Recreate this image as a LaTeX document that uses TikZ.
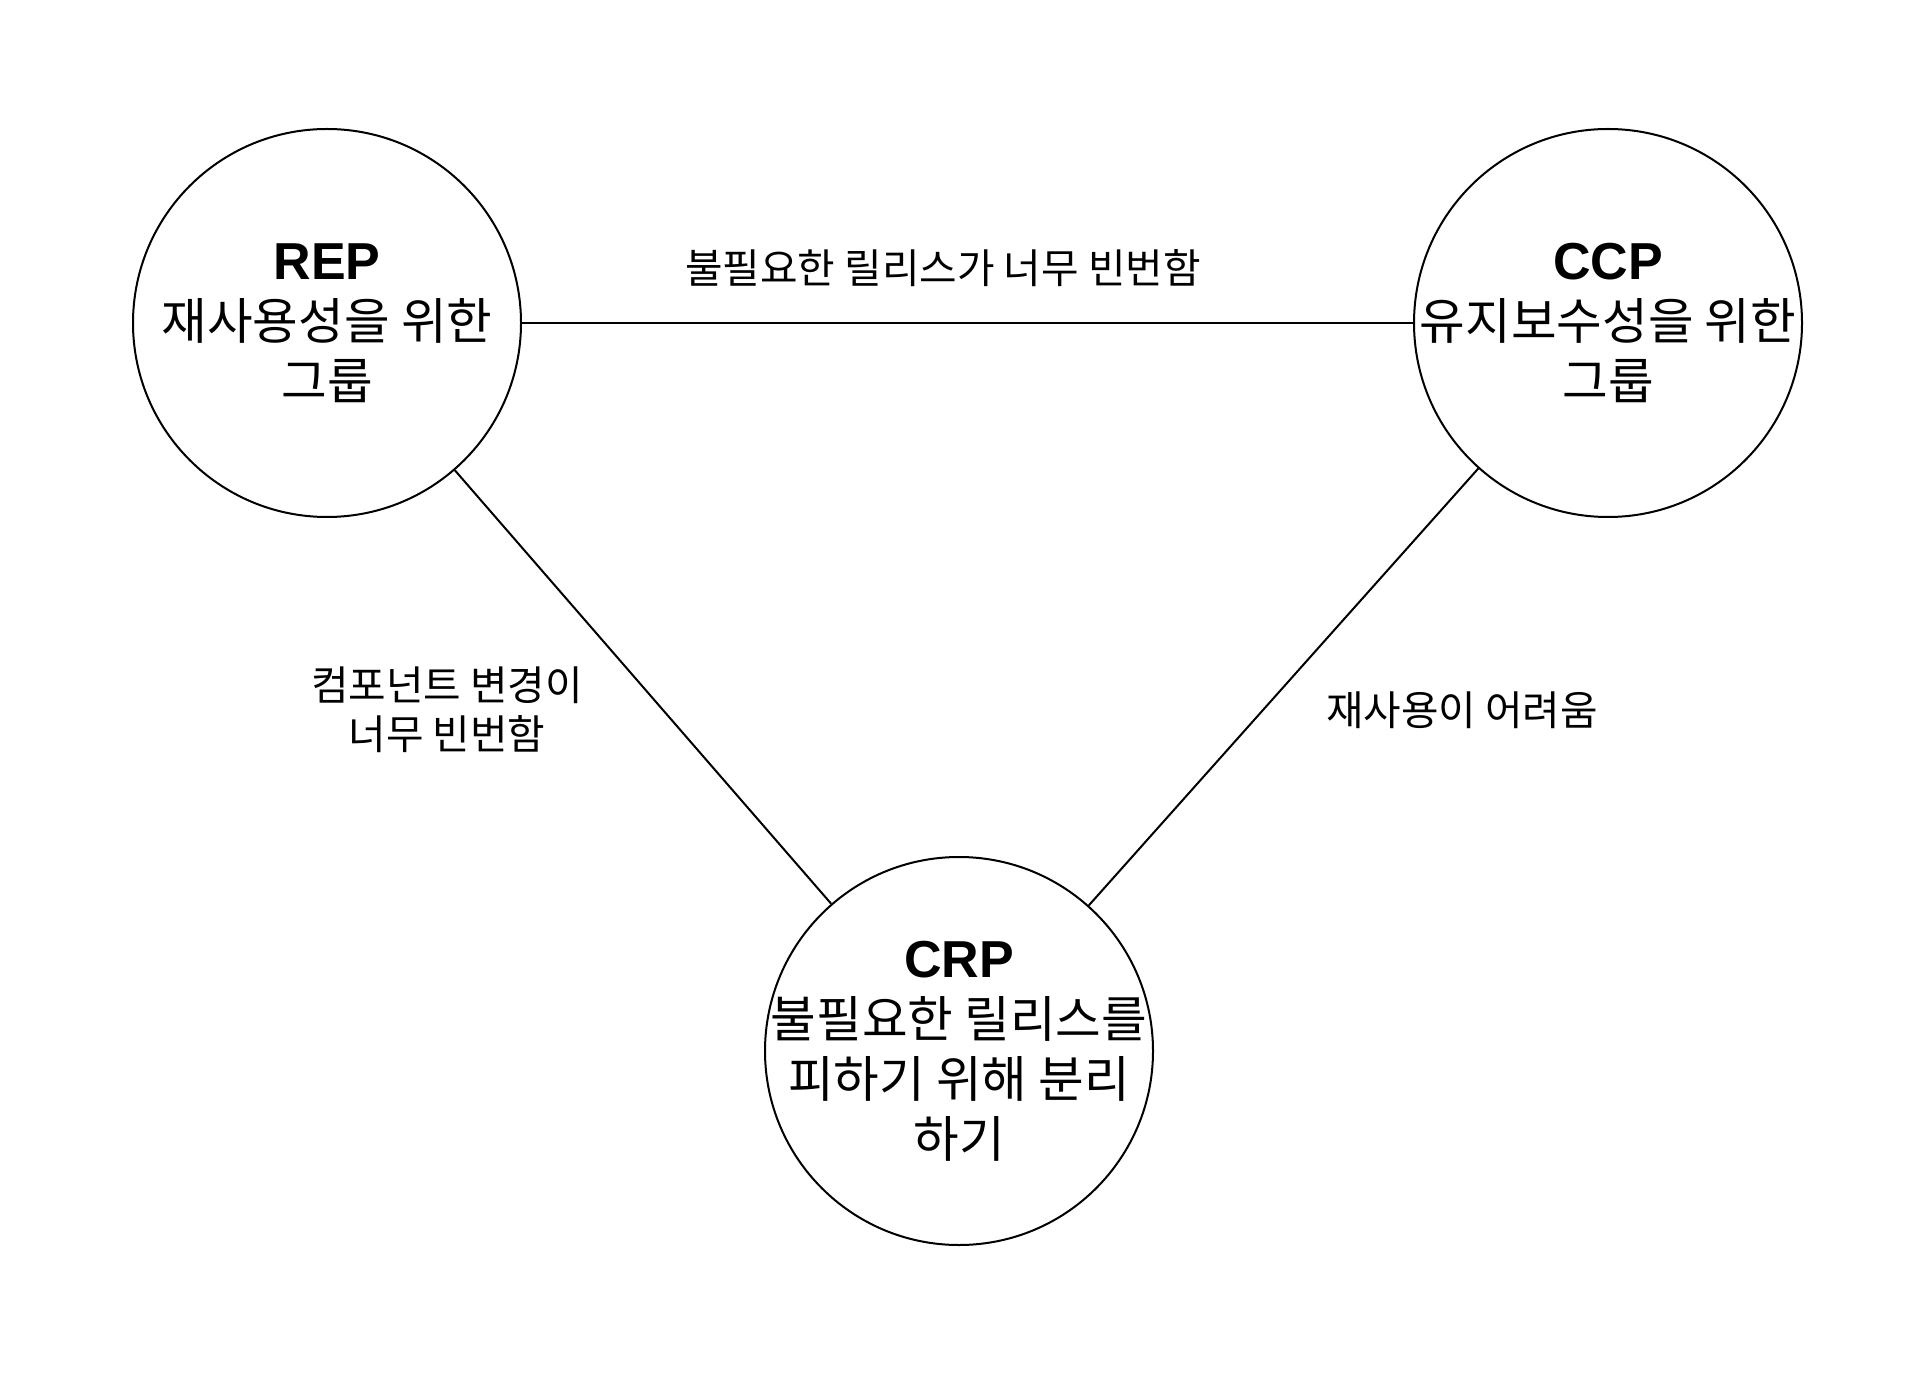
\documentclass[tikz,border=0pt]{standalone}
\usepackage{fontspec}
\newfontfamily\kr{Noto Sans CJK KR}
\newfontfamily\lat{Liberation Sans}
\begin{document}
\begin{tikzpicture}[x=0.5pt,y=-0.5pt,
  circ/.style={circle,draw,line width=1pt,minimum size=194pt,inner sep=-25pt,align=center,font=\kr\fontsize{24.8pt}{30pt}\selectfont},
  lbl/.style={align=center,font=\kr\fontsize{20.4pt}{24.5pt}\selectfont,inner sep=0pt},
  link/.style={line width=1pt}]
\useasboundingbox[fill=white] (0,0) rectangle (1920,1400);
\newcommand\ttltext[1]{{\lat\bfseries\fontsize{26pt}{30pt}\selectfont #1}}
\node[circ] (rep) at (327,323) {\ttltext{REP}\\재사용성을 위한\\그룹};
\node[circ] (ccp) at (1608,323) {\ttltext{CCP}\\유지보수성을 위한\\그룹};
\node[circ] (crp) at (959,1051) {\ttltext{CRP}\\불필요한 릴리스를\\피하기 위해 분리\\하기};
\draw[link] (rep) -- (ccp);
\draw[link] (rep) -- (crp);
\draw[link] (ccp) -- (crp);
\node[lbl] (l1) at (943,268) {불필요한 릴리스가 너무 빈번함};
\node[lbl] (l2) at (447,710) {컴포넌트 변경이\\너무 빈번함};
\node[lbl] (l3) at (1462,710) {재사용이 어려움};
\end{tikzpicture}
\end{document}
